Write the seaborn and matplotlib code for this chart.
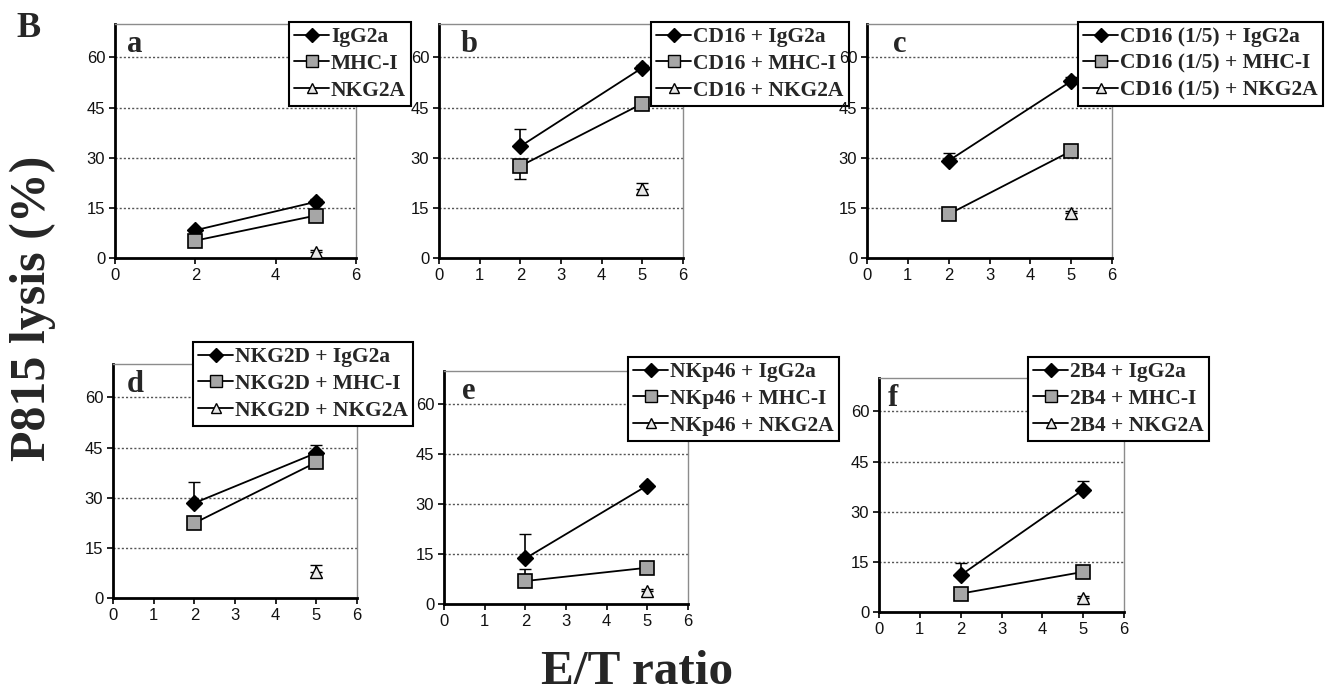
import numpy as np
import pandas as pd
import matplotlib
matplotlib.use("Agg")
import matplotlib.pyplot as plt
from matplotlib.lines import Line2D
import seaborn as sns

# ---------------- data ----------------
panel_letters = ["a", "b", "c", "d", "e", "f"]
label_prefixes = ["", "CD16 + ", "CD16 (1/5) + ", "NKG2D + ", "NKp46 + ", "2B4 + "]
series_names = ["IgG2a", "MHC-I", "NKG2A"]
et_ratio = [2, 5]

igg2a_vals = [[8.3, 16.8], [33.4, 56.9], [29.1, 52.9], [28.4, 43.4], [13.7, 35.6], [11.0, 36.6]]
mhc_vals = [[5.2, 12.7], [27.5, 46.2], [13.1, 32.0], [22.4, 40.6], [6.9, 10.9], [5.5, 12.0]]
nkg2a_x = [5]
nkg2a_vals = [1.9, 20.5, 13.6, 7.7, 4.0, 4.3]

igg2a_err_up = [[0.5, 0.8], [5.3, 0.8], [2.3, 1.2], [6.2, 2.5], [7.2, 0.6], [3.7, 2.5]]
igg2a_err_dn = [[0.0, 0.0], [0.0, 0.0], [0.0, 0.0], [0.0, 0.0], [0.0, 0.0], [0.0, 0.0]]
mhc_err_up = [[0.0, 0.6], [0.0, 0.5], [0.0, 1.5], [0.0, 0.0], [3.5, 0.0], [0.0, 0.0]]
mhc_err_dn = [[0.0, 0.0], [4.0, 0.0], [0.0, 0.0], [0.0, 0.0], [0.0, 0.0], [0.0, 0.0]]
nkg2a_err_up = [0.5, 2.0, 0.5, 2.3, 0.5, 0.5]

y_ticks = [0, 15, 30, 45, 60]
x_ticks_a = [0, 2, 4, 6]
x_ticks = [0, 1, 2, 3, 4, 5, 6]

# ---------------- layout ----------------
W, H = 1326, 697
sns.set_style("white")
plt.rcParams["font.family"] = ["Liberation Serif", "DejaVu Serif"]

fig = plt.figure(figsize=(W / 100, H / 100), dpi=100)
fig.patch.set_facecolor("white")

# axes boxes in pixels: left, top, right, bottom
boxes = [(115, 24, 356, 258), (439, 24, 683, 258), (867, 24, 1112, 258),
         (113, 364, 357, 598), (444, 371, 688, 604), (879, 378, 1124, 612)]
legend_tl = [(289, 22), (651, 22), (1078, 22), (193, 342), (628, 357), (1028, 357)]
letter_off = [12, 22, 26, 14, 18, 9]

sans = ["Liberation Sans", "DejaVu Sans"]
serif = ["Liberation Serif", "DejaVu Serif"]

styles = {
    "IgG2a": dict(marker="D", markersize=8.5, markerfacecolor="black", markeredgecolor="black"),
    "MHC-I": dict(marker="s", markersize=10, markerfacecolor="#a6a6a6", markeredgecolor="black"),
    "NKG2A": dict(marker="^", markersize=9, markerfacecolor="#e8e8e8", markeredgecolor="black"),
}

for i in range(6):
    l, t, r, b = boxes[i]
    ax = fig.add_axes([l / W, 1 - b / H, (r - l) / W, (b - t) / H])
    ax.set_facecolor("white")

    df1 = pd.DataFrame({"x": et_ratio, "y": igg2a_vals[i]})
    df2 = pd.DataFrame({"x": et_ratio, "y": mhc_vals[i]})
    df3 = pd.DataFrame({"x": nkg2a_x, "y": [nkg2a_vals[i]]})

    ax.errorbar(et_ratio, igg2a_vals[i], yerr=[igg2a_err_dn[i], igg2a_err_up[i]],
                fmt="none", ecolor="black", elinewidth=1.2, capsize=4, zorder=2)
    ax.errorbar(et_ratio, mhc_vals[i], yerr=[mhc_err_dn[i], mhc_err_up[i]],
                fmt="none", ecolor="black", elinewidth=1.2, capsize=4, zorder=2)
    ax.errorbar(nkg2a_x, [nkg2a_vals[i]], yerr=[[0], [nkg2a_err_up[i]]],
                fmt="none", ecolor="black", elinewidth=1.2, capsize=4, zorder=2)

    sns.lineplot(data=df1, x="x", y="y", ax=ax, color="black", linewidth=1.3,
                 markeredgewidth=1.0, zorder=3, **styles["IgG2a"])
    sns.lineplot(data=df2, x="x", y="y", ax=ax, color="black", linewidth=1.3,
                 markeredgewidth=1.2, zorder=3, **styles["MHC-I"])
    sns.lineplot(data=df3, x="x", y="y", ax=ax, color="black", linewidth=1.3,
                 markeredgewidth=1.0, zorder=3, **styles["NKG2A"])

    ax.set_xlim(0, 6)
    ax.set_ylim(0, 70)
    ax.set_yticks(y_ticks)
    ax.set_xticks(x_ticks_a if i == 0 else x_ticks)
    ax.set_xlabel("")
    ax.set_ylabel("")
    for lab in ax.get_xticklabels() + ax.get_yticklabels():
        lab.set_family(sans)
        lab.set_fontsize(12)
    ax.tick_params(axis="both", direction="out", length=4, width=1.2, color="black",
                   labelcolor="#111111", pad=3, left=True, bottom=True)
    for y in y_ticks[1:]:
        ax.axhline(y, color="#555555", linestyle=(0, (1.5, 1.5)), linewidth=1.0, zorder=1)
    ax.spines["left"].set_color("black")
    ax.spines["left"].set_linewidth(2)
    ax.spines["bottom"].set_color("black")
    ax.spines["bottom"].set_linewidth(2)
    ax.spines["top"].set_color("#8c8c8c")
    ax.spines["top"].set_linewidth(1)
    ax.spines["right"].set_color("#8c8c8c")
    ax.spines["right"].set_linewidth(1)

    ax.text(letter_off[i] / (r - l), 1 - 6 / (b - t), panel_letters[i], transform=ax.transAxes,
            ha="left", va="top", fontsize=22, fontweight="bold", family=serif)

    handles = []
    for name in series_names:
        st = dict(styles[name])
        st["markersize"] = st["markersize"] * 0.85
        handles.append(Line2D([0], [0], color="black", linewidth=1.3, **st))
    labels = [label_prefixes[i] + s for s in series_names]
    lx, ly = legend_tl[i]
    leg = ax.legend(handles, labels, loc="upper left", bbox_to_anchor=(lx / W, 1 - ly / H),
                    bbox_transform=fig.transFigure, frameon=True, fancybox=False,
                    edgecolor="black", framealpha=1, borderpad=0.25, labelspacing=0.3,
                    handlelength=1.6, handletextpad=0.1, borderaxespad=0,
                    prop={"family": serif, "weight": "bold", "size": 15.5})
    leg.get_frame().set_linewidth(1.5)
    leg.set_zorder(10)

fig.text(16 / W, 1 - 12 / H, "B", ha="left", va="top", fontsize=26, fontweight="bold", family=serif)
fig.text(33 / W, 1 - 308 / H, "P815 lysis (%)", rotation=90, ha="center", va="center",
         fontsize=36, fontweight="bold", family=serif)
fig.text(637 / W, 1 - 672 / H, "E/T ratio", ha="center", va="center",
         fontsize=35.5, fontweight="bold", family=serif)

fig.savefig("out.png", dpi=100, facecolor="white")
